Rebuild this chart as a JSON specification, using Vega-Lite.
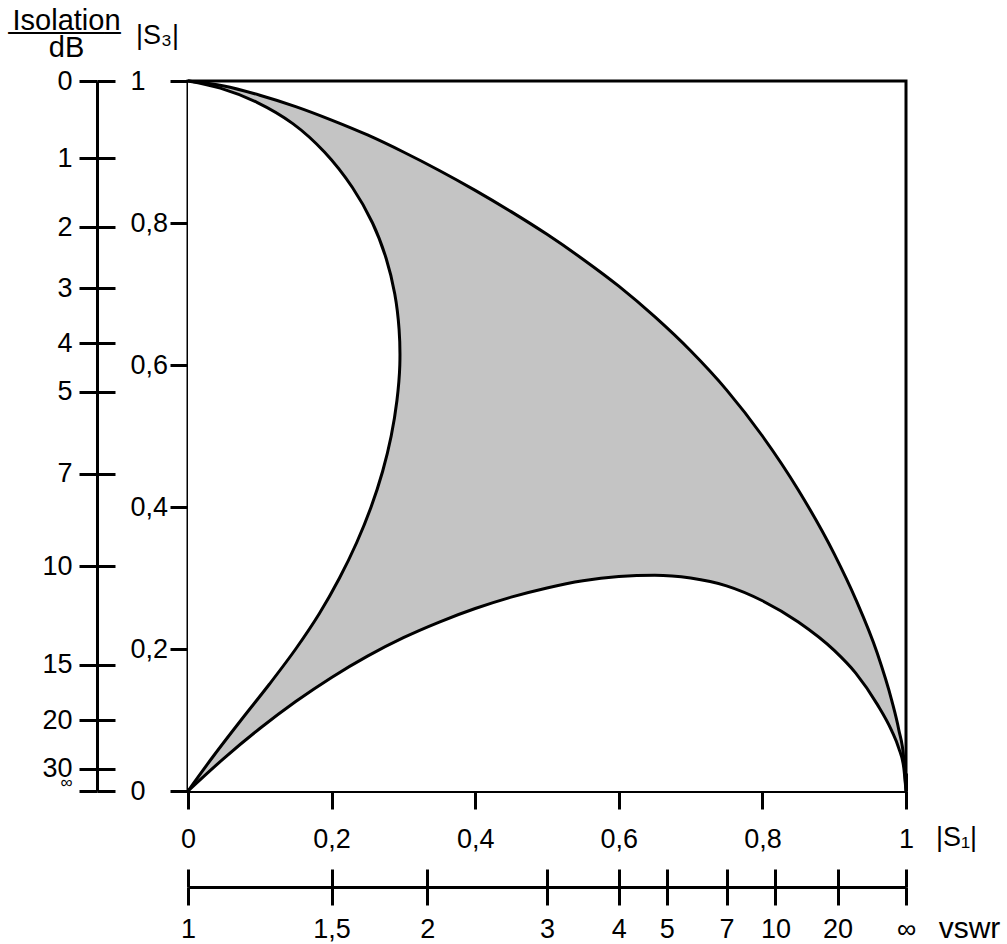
{
  "$schema": "https://vega.github.io/schema/vega-lite/v6.json",
  "width": 718,
  "height": 710,
  "autosize": "none",
  "padding": {"left": 188, "top": 81, "right": 101, "bottom": 153},
  "background": "white",
  "config": {
    "font": "Liberation Sans",
    "view": {"stroke": "black", "strokeWidth": 3},
    "axis": {
      "domainColor": "black",
      "domainWidth": 3,
      "tickColor": "black",
      "tickWidth": 3,
      "labelColor": "black",
      "labelFont": "Liberation Sans",
      "labelFontSize": 27,
      "titleColor": "black",
      "titleFont": "Liberation Sans",
      "titleFontWeight": "normal",
      "titleFontSize": 28,
      "grid": false,
      "labelOverlap": false,
      "labelFlush": false,
      "labelBound": false,
      "zindex": 1
    }
  },
  "datasets": {
    "upper": [
      {"s1": 0.0, "s3": 1.0},
      {"s1": 0.05, "s3": 0.993},
      {"s1": 0.1, "s3": 0.98},
      {"s1": 0.15, "s3": 0.964},
      {"s1": 0.2, "s3": 0.945},
      {"s1": 0.25, "s3": 0.924},
      {"s1": 0.3, "s3": 0.9},
      {"s1": 0.35, "s3": 0.874},
      {"s1": 0.4, "s3": 0.846},
      {"s1": 0.45, "s3": 0.816},
      {"s1": 0.5, "s3": 0.784},
      {"s1": 0.55, "s3": 0.749},
      {"s1": 0.6, "s3": 0.711},
      {"s1": 0.65, "s3": 0.668},
      {"s1": 0.7, "s3": 0.62},
      {"s1": 0.75, "s3": 0.565},
      {"s1": 0.8, "s3": 0.5},
      {"s1": 0.85, "s3": 0.424},
      {"s1": 0.9, "s3": 0.334},
      {"s1": 0.93, "s3": 0.27},
      {"s1": 0.96, "s3": 0.194},
      {"s1": 0.98, "s3": 0.128},
      {"s1": 0.99, "s3": 0.086},
      {"s1": 0.997, "s3": 0.045},
      {"s1": 1.0, "s3": 0.0}
    ],
    "lower": [
      {"s1": 0.0, "s3": 0.0},
      {"s1": 0.05, "s3": 0.046},
      {"s1": 0.1, "s3": 0.088},
      {"s1": 0.15, "s3": 0.126},
      {"s1": 0.2, "s3": 0.16},
      {"s1": 0.25, "s3": 0.19},
      {"s1": 0.3, "s3": 0.216},
      {"s1": 0.35, "s3": 0.238},
      {"s1": 0.4, "s3": 0.257},
      {"s1": 0.45, "s3": 0.273},
      {"s1": 0.5, "s3": 0.286},
      {"s1": 0.55, "s3": 0.296},
      {"s1": 0.6, "s3": 0.302},
      {"s1": 0.65, "s3": 0.304},
      {"s1": 0.7, "s3": 0.3},
      {"s1": 0.75, "s3": 0.289},
      {"s1": 0.8, "s3": 0.268},
      {"s1": 0.85, "s3": 0.238},
      {"s1": 0.9, "s3": 0.198},
      {"s1": 0.93, "s3": 0.166},
      {"s1": 0.96, "s3": 0.122},
      {"s1": 0.98, "s3": 0.085},
      {"s1": 0.99, "s3": 0.06},
      {"s1": 0.997, "s3": 0.032},
      {"s1": 1.0, "s3": 0.0}
    ],
    "left": [
      {"s3": 0.0, "s1": 0.0},
      {"s3": 0.05, "s1": 0.036},
      {"s3": 0.1, "s1": 0.074},
      {"s3": 0.15, "s1": 0.113},
      {"s3": 0.2, "s1": 0.15},
      {"s3": 0.25, "s1": 0.183},
      {"s3": 0.3, "s1": 0.211},
      {"s3": 0.35, "s1": 0.235},
      {"s3": 0.4, "s1": 0.255},
      {"s3": 0.45, "s1": 0.271},
      {"s3": 0.5, "s1": 0.283},
      {"s3": 0.55, "s1": 0.291},
      {"s3": 0.6, "s1": 0.295},
      {"s3": 0.65, "s1": 0.294},
      {"s3": 0.7, "s1": 0.288},
      {"s3": 0.75, "s1": 0.276},
      {"s3": 0.8, "s1": 0.257},
      {"s3": 0.85, "s1": 0.229},
      {"s3": 0.9, "s1": 0.19},
      {"s3": 0.94, "s1": 0.146},
      {"s3": 0.97, "s1": 0.096},
      {"s3": 0.99, "s1": 0.045},
      {"s3": 1.0, "s1": 0.0}
    ]
  },
  "resolve": {"axis": {"x": "independent", "y": "independent"}},
  "layer": [
    {
      "data": {"name": "upper"},
      "mark": {"type": "area", "color": "#c4c4c4", "interpolate": "monotone"},
      "encoding": {
        "x": {
          "field": "s1", "type": "quantitative",
          "scale": {"domain": [0, 1], "nice": false, "zero": false},
          "axis": {
            "orient": "bottom",
            "values": [0, 0.2, 0.4, 0.6, 0.8, 1],
            "labelExpr": "datum.value == 0 ? '0' : datum.value == 1 ? '1' : replace(format(datum.value, '.1f'), '.', ',')",
            "tickSize": 18,
            "labelPadding": 17,
            "title": "|S₁|",
            "titleX": 768,
            "titleY": 54,
            "titleAlign": "center",
            "titleBaseline": "alphabetic",
            "titleFontSize": 27
          }
        },
        "y": {
          "field": "s3", "type": "quantitative",
          "scale": {"domain": [0, 1], "nice": false, "zero": false},
          "axis": {
            "orient": "left",
            "values": [0, 0.2, 0.4, 0.6, 0.8, 1],
            "labelExpr": "datum.value == 0 ? '0' : datum.value == 1 ? '1' : replace(format(datum.value, '.1f'), '.', ',')",
            "tickSize": 18,
            "labelAlign": "left",
            "labelBaseline": "middle",
            "labelPadding": 40,
            "title": "|S₃|",
            "titleAngle": 0,
            "titleX": -31,
            "titleY": -38,
            "titleAlign": "center",
            "titleBaseline": "alphabetic",
            "titleFontSize": 27
          }
        },
        "y2": {"datum": 0}
      }
    },
    {
      "data": {"name": "lower"},
      "mark": {"type": "area", "color": "white", "interpolate": "monotone"},
      "encoding": {
        "x": {
          "field": "s1", "type": "quantitative",
          "scale": {"domain": [0, 1], "nice": false, "zero": false},
          "axis": {
            "orient": "bottom",
            "values": [0, 0.2, 0.4, 0.6, 0.8, 1],
            "tickSize": -18,
            "labels": false,
            "domain": false,
            "title": null
          }
        },
        "y": {
          "field": "s3", "type": "quantitative",
          "scale": {"domain": [0, 1], "nice": false, "zero": false},
          "axis": {
            "orient": "left",
            "values": [0, 0.2, 0.4, 0.6, 0.8, 1],
            "tickSize": -18,
            "labels": false,
            "domain": false,
            "title": null
          }
        },
        "y2": {"datum": 0}
      }
    },
    {
      "data": {"name": "left"},
      "mark": {"type": "area", "orient": "horizontal", "color": "white", "interpolate": "catmull-rom"},
      "encoding": {
        "y": {
          "field": "s3", "type": "quantitative",
          "scale": {"domain": [0, 1], "nice": false, "zero": false},
          "axis": {
            "orient": "left",
            "offset": 91,
            "values": [1, 0.8912509, 0.7943282, 0.7079458, 0.6309573, 0.5623413, 0.4466836, 0.3162278, 0.1778279, 0.1, 0.0316228, 0],
            "labelExpr": "datum.value == 0 ? '∞' : format(abs(20 * log(datum.value) / LN10), '.0f')",
            "labelFontSize": {"condition": {"test": "datum.value == 0", "value": 17}, "value": 27},
            "labelBaseline": {"condition": {"test": "datum.value == 0", "value": "bottom"}, "value": "middle"},
            "tickSize": 18,
            "labelPadding": 7,
            "title": ["I\u0332s\u0332o\u0332l\u0332a\u0332t\u0332i\u0332o\u0332n\u0332", "dB"],
            "titleAngle": 0,
            "titleX": -31,
            "titleY": -52,
            "titleAlign": "center",
            "titleBaseline": "alphabetic",
            "titleLineHeight": 27,
            "titleFontSize": 29
          }
        },
        "x": {
          "field": "s1", "type": "quantitative",
          "scale": {"domain": [0, 1], "nice": false, "zero": false},
          "axis": {
            "orient": "bottom",
            "offset": 96,
            "values": [0, 0.2, 0.3333333, 0.5, 0.6, 0.6666667, 0.75, 0.8181818, 0.9047619, 1],
            "labelExpr": "datum.value > 0.999 ? '∞' : replace(format((1 + datum.value) / (1 - datum.value), '.3~f'), '.', ',')",
            "tickSize": 18,
            "labelPadding": 11,
            "title": "vswr",
            "titleX": 781,
            "titleY": 50,
            "titleAlign": "center",
            "titleBaseline": "alphabetic",
            "titleFontSize": 30
          }
        },
        "x2": {"datum": 0}
      }
    },
    {
      "data": {"name": "upper"},
      "mark": {"type": "line", "color": "black", "strokeWidth": 3, "interpolate": "monotone"},
      "encoding": {
        "x": {
          "field": "s1", "type": "quantitative",
          "scale": {"domain": [0, 1], "nice": false, "zero": false},
          "axis": {
            "orient": "bottom",
            "offset": 96,
            "values": [0, 0.2, 0.3333333, 0.5, 0.6, 0.6666667, 0.75, 0.8181818, 0.9047619, 1],
            "tickSize": -18,
            "labels": false,
            "domain": false,
            "title": null
          }
        },
        "y": {
          "field": "s3", "type": "quantitative",
          "scale": {"domain": [0, 1], "nice": false, "zero": false},
          "axis": {
            "orient": "left",
            "offset": 91,
            "values": [1, 0.8912509, 0.7943282, 0.7079458, 0.6309573, 0.5623413, 0.4466836, 0.3162278, 0.1778279, 0.1, 0.0316228, 0],
            "tickSize": -18,
            "labels": false,
            "domain": false,
            "title": null
          }
        }
      }
    },
    {
      "data": {"name": "lower"},
      "mark": {"type": "line", "color": "black", "strokeWidth": 3, "interpolate": "monotone"},
      "encoding": {
        "x": {"field": "s1", "type": "quantitative", "scale": {"domain": [0, 1], "nice": false, "zero": false}, "axis": null},
        "y": {"field": "s3", "type": "quantitative", "scale": {"domain": [0, 1], "nice": false, "zero": false}, "axis": null}
      }
    },
    {
      "data": {"name": "left"},
      "mark": {"type": "line", "color": "black", "strokeWidth": 3, "interpolate": "catmull-rom"},
      "encoding": {
        "x": {"field": "s1", "type": "quantitative", "scale": {"domain": [0, 1], "nice": false, "zero": false}, "axis": null},
        "y": {"field": "s3", "type": "quantitative", "scale": {"domain": [0, 1], "nice": false, "zero": false}, "axis": null},
        "order": {"field": "s3", "type": "quantitative"}
      }
    }
  ]
}
